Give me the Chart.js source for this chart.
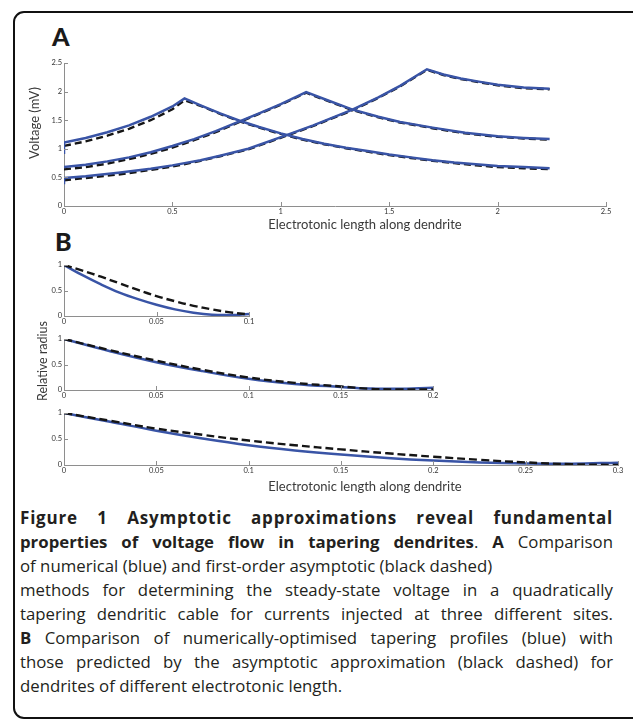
<!DOCTYPE html>
<html>
<head>
<meta charset="utf-8">
<script src="https://cdn.jsdelivr.net/npm/chart.js@4.4.0/dist/chart.umd.min.js"></script>
<style>
  body { margin: 0; background: #fff; width: 633px; height: 722px; overflow: hidden; position: relative; font-family: Lato, sans-serif; color: #231f20; }
  .frame { position: absolute; left: 13px; top: 11px; width: 640px; height: 708px; border: 2px solid #111; border-radius: 11px; box-sizing: border-box; }
  canvas { position: absolute; }
  .lbl { position: absolute; font-weight: 900; font-size: 25px; line-height: 1; color: #1a1a1a; }
  .axt { position: absolute; font-size: 13px; color: #3a3a3a; white-space: nowrap; line-height: 1; transform: translate(-50%, -50%); }
  .rot { transform: translate(-50%, -50%) rotate(-90deg); }
  .cap { position: absolute; left: 20px; width: 593px; font-family: 'Open Sans', sans-serif; font-size: 16.8px; line-height: 24px; white-space: nowrap; }
  .j { text-align: justify; text-align-last: justify; }
</style>
</head>
<body>
<div class="frame"></div>
<div class="lbl" style="left:52px;top:24px">A</div>
<div class="lbl" style="left:55px;top:229px">B</div>

<canvas id="chartA"></canvas>
<canvas id="chartB1"></canvas>
<canvas id="chartB2"></canvas>
<canvas id="chartB3"></canvas>

<div class="axt rot" style="left:34px;top:123px">Voltage (mV)</div>
<div class="axt" style="left:365px;top:224px">Electrotonic length along dendrite</div>
<div class="axt rot" style="left:43px;top:361px;font-size:12.5px">Relative radius</div>
<div class="axt" style="left:365px;top:486px">Electrotonic length along dendrite</div>

<div class="cap j" style="top:506px;font-size:17px;letter-spacing:0.8px"><b>Figure 1 Asymptotic approximations reveal fundamental</b></div>
<div class="cap j" style="top:530px"><b>properties of voltage flow in tapering dendrites</b>. <b>A</b> Comparison</div>
<div class="cap" style="top:554px">of numerical (blue) and first-order asymptotic (black dashed)</div>
<div class="cap j" style="top:578px">methods for determining the steady-state voltage in a quadratically</div>
<div class="cap j" style="top:602px">tapering dendritic cable for currents injected at three different sites.</div>
<div class="cap j" style="top:626px"><b>B</b> Comparison of numerically-optimised tapering profiles (blue) with</div>
<div class="cap j" style="top:650px">those predicted by the asymptotic approximation (black dashed) for</div>
<div class="cap" style="top:674px">dendrites of different electrotonic length.</div>

<script>
// Panel A: voltage vs electrotonic length, three injection sites
const aTicksX = [0, 0.5, 1, 1.5, 2, 2.5];
const aTicksY = [0, 0.5, 1, 1.5, 2, 2.5];

const aX1 = [0, 0.1, 0.2, 0.3, 0.4, 0.5, 0.556, 0.63, 0.72, 0.81, 0.9, 1.0, 1.1, 1.2, 1.3, 1.4, 1.5, 1.6, 1.7, 1.8, 1.9, 2.0, 2.12, 2.24];
const aBlue1 = [1.11, 1.19, 1.29, 1.41, 1.56, 1.74, 1.88, 1.76, 1.62, 1.49, 1.38, 1.27, 1.17, 1.09, 1.02, 0.96, 0.90, 0.85, 0.80, 0.76, 0.73, 0.70, 0.68, 0.66];
const aDash1 = [1.05, 1.13, 1.23, 1.35, 1.50, 1.69, 1.85, 1.75, 1.61, 1.48, 1.37, 1.26, 1.16, 1.08, 1.01, 0.95, 0.89, 0.84, 0.79, 0.75, 0.71, 0.68, 0.66, 0.645];

const aX2 = [0, 0.1, 0.2, 0.3, 0.4, 0.5, 0.6, 0.7, 0.81, 0.9, 1.0, 1.117, 1.2, 1.328, 1.45, 1.55, 1.7, 1.85, 2.0, 2.12, 2.24];
const aBlue2 = [0.68, 0.72, 0.78, 0.85, 0.94, 1.05, 1.17, 1.31, 1.48, 1.62, 1.78, 1.99, 1.87, 1.69, 1.56, 1.47, 1.37, 1.28, 1.22, 1.19, 1.17];
const aDash2 = [0.64, 0.68, 0.74, 0.82, 0.91, 1.02, 1.15, 1.29, 1.47, 1.61, 1.77, 1.98, 1.86, 1.68, 1.55, 1.46, 1.36, 1.27, 1.21, 1.18, 1.16];

const aX3 = [0, 0.1, 0.25, 0.4, 0.5, 0.63, 0.72, 0.85, 1.02, 1.15, 1.328, 1.45, 1.55, 1.674, 1.75, 1.83, 1.92, 2.0, 2.12, 2.24];
const aBlue3 = [0.49, 0.52, 0.58, 0.65, 0.71, 0.80, 0.88, 1.00, 1.23, 1.41, 1.68, 1.90, 2.10, 2.39, 2.30, 2.23, 2.17, 2.12, 2.07, 2.05];
const aDash3 = [0.45, 0.49, 0.55, 0.63, 0.69, 0.79, 0.87, 0.99, 1.22, 1.40, 1.67, 1.89, 2.09, 2.38, 2.29, 2.22, 2.16, 2.11, 2.06, 2.04];

// boundary values of the numerical solution at x = 0
const aEdgeX = [0, 0];
const aEdge1 = [0.91, 1.11];
const aEdge3 = [0.38, 0.49];

// Panel B: relative radius profiles for three dendrite lengths
const bTicksY = [0, 0.5, 1];
const bTicksX1 = [0, 0.05, 0.1];
const bTicksX2 = [0, 0.05, 0.1, 0.15, 0.2];
const bTicksX3 = [0, 0.05, 0.1, 0.15, 0.2, 0.25, 0.3];

const bX1 = [0, 0.01, 0.02, 0.03, 0.04, 0.05, 0.06, 0.07, 0.08, 0.09, 0.1];
const bBlue1 = [1, 0.80, 0.62, 0.46, 0.33, 0.22, 0.13, 0.065, 0.025, 0.02, 0.04];
const bDash1 = [1, 0.89, 0.77, 0.64, 0.51, 0.39, 0.29, 0.20, 0.13, 0.07, 0.03];

const bX2 = [0, 0.025, 0.05, 0.075, 0.1, 0.125, 0.15, 0.165, 0.18, 0.2];
const bBlue2 = [1, 0.76, 0.545, 0.37, 0.22, 0.12, 0.06, 0.03, 0.025, 0.045];
const bDash2 = [1, 0.78, 0.575, 0.395, 0.245, 0.14, 0.07, 0.025, 0.01, 0.01];

const bX3 = [0, 0.025, 0.05, 0.075, 0.1, 0.125, 0.15, 0.175, 0.2, 0.225, 0.25, 0.275, 0.3];
const bBlue3 = [1, 0.83, 0.66, 0.51, 0.38, 0.28, 0.20, 0.135, 0.085, 0.05, 0.03, 0.025, 0.045];
const bDash3 = [1, 0.85, 0.70, 0.58, 0.47, 0.38, 0.30, 0.225, 0.16, 0.10, 0.05, 0.015, 0.0];

const BLUE = '#3954a6';
const DARK = '#151515';
const AXIS = '#8e8e8e';

function pts(xs, ys) { return xs.map((x, i) => ({ x: x, y: ys[i] })); }

// order: lower number is painted last (on top)
function blue(xs, ys, tension, order) {
    return { data: pts(xs, ys), borderColor: BLUE, borderWidth: 2.5, tension: tension, order: order };
}
function dashed(xs, ys, tension, dash, order) {
    return { data: pts(xs, ys), borderColor: DARK, borderWidth: 2.4, borderDash: dash, tension: tension, order: order };
}

// small inward tick marks, like the original figure
const inTicks = {
    id: 'inTicks',
    afterDraw(chart) {
        const { ctx, chartArea: a, scales: { x, y } } = chart;
        ctx.save();
        ctx.strokeStyle = AXIS;
        ctx.lineWidth = 1;
        ctx.beginPath();
        x.ticks.forEach(t => {
            const px = Math.round(x.getPixelForValue(t.value)) + 0.5;
            ctx.moveTo(px, a.bottom);
            ctx.lineTo(px, a.bottom - 4);
        });
        y.ticks.forEach(t => {
            const py = Math.round(y.getPixelForValue(t.value)) + 0.5;
            ctx.moveTo(a.left, py);
            ctx.lineTo(a.left + 4, py);
        });
        ctx.stroke();
        ctx.restore();
    }
};

// area = chart area in page pixels
function plot(id, area, xTicks, yTicks, datasets) {
    const yw = 40, top = 12, right = 14, xh = 14;
    const cv = document.getElementById(id);
    const w = Math.round(area.right - area.left) + yw + right;
    const h = Math.round(area.bottom - area.top) + top + xh;
    cv.width = w;
    cv.height = h;
    cv.style.left = (area.left - yw) + 'px';
    cv.style.top = (area.top - top) + 'px';
    const tickFont = { family: 'Lato', size: 7.5 };
    return new Chart(cv, {
        type: 'scatter',
        data: { datasets: datasets.map(d => Object.assign({ showLine: true, pointRadius: 0, fill: false }, d)) },
        options: {
            responsive: false,
            animation: false,
            layout: { padding: { left: 0, top: top, right: right, bottom: 0 } },
            plugins: { legend: { display: false }, tooltip: { enabled: false } },
            scales: {
                x: {
                    type: 'linear',
                    min: xTicks[0], max: xTicks[xTicks.length - 1],
                    grid: { display: false, drawTicks: false },
                    border: { display: true, color: AXIS, width: 1 },
                    afterBuildTicks: s => { s.ticks = xTicks.map(v => ({ value: v })); },
                    afterFit: s => { s.height = xh; s.paddingLeft = 0; s.paddingRight = 0; },
                    ticks: { font: tickFont, color: '#333', padding: 1, maxRotation: 0, autoSkip: false, callback: v => String(v) }
                },
                y: {
                    type: 'linear',
                    min: yTicks[0], max: yTicks[yTicks.length - 1],
                    grid: { display: false, drawTicks: false },
                    border: { display: true, color: AXIS, width: 1 },
                    afterBuildTicks: s => { s.ticks = yTicks.map(v => ({ value: v })); },
                    afterFit: s => { s.width = yw; s.paddingTop = 0; s.paddingBottom = 0; },
                    ticks: { font: tickFont, color: '#333', padding: 2, autoSkip: false, callback: v => String(v) }
                }
            }
        },
        plugins: [inTicks]
    });
}

plot('chartA', { left: 64, right: 606, top: 62.5, bottom: 205 }, aTicksX, aTicksY, [
    blue(aX1, aBlue1, 0, 1), dashed(aX1, aDash1, 0, [7, 4], 2),
    blue(aX2, aBlue2, 0, 1), dashed(aX2, aDash2, 0, [7, 4], 2),
    blue(aX3, aBlue3, 0, 1), dashed(aX3, aDash3, 0, [7, 4], 2),
    blue(aEdgeX, aEdge1, 0, 1), blue(aEdgeX, aEdge3, 0, 1)
]);

plot('chartB1', { left: 64, right: 248.5, top: 265, bottom: 315.7 }, bTicksX1, bTicksY, [
    blue(bX1, bBlue1, 0.4, 2), dashed(bX1, bDash1, 0.4, [8, 4], 1)
]);
plot('chartB2', { left: 64, right: 433, top: 339.3, bottom: 390.7 }, bTicksX2, bTicksY, [
    blue(bX2, bBlue2, 0.4, 2), dashed(bX2, bDash2, 0.4, [8, 4], 1)
]);
plot('chartB3', { left: 64, right: 617.5, top: 413, bottom: 465 }, bTicksX3, bTicksY, [
    blue(bX3, bBlue3, 0.4, 2), dashed(bX3, bDash3, 0.4, [8, 4], 1)
]);
</script>
</body>
</html>
